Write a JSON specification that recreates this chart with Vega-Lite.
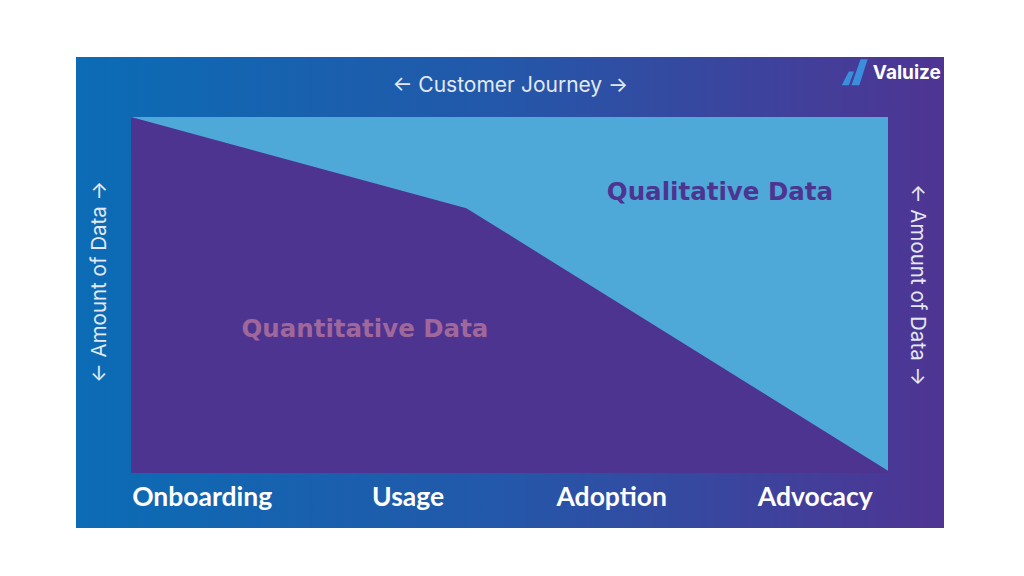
{
  "$schema": "https://vega.github.io/schema/vega-lite/v6.json",
  "width": 868,
  "height": 471,
  "autosize": {"type": "none"},
  "padding": {"left": 76, "top": 57, "right": 80, "bottom": 48},
  "background": "white",
  "config": {"view": {"stroke": null}, "axis": {"disable": true}},
  "datasets": {
    "frame": [{"x0": -7.27, "x1": 107.4, "y0": -15.45, "y1": 116.85}],
    "inner": [{"x0": 0, "x1": 100, "y0": 0, "y1": 100}],
    "boundary": [
      {"x": 0, "y": 100},
      {"x": 44.3, "y": 74.4},
      {"x": 100, "y": 0.6}
    ],
    "stages": [
      {"label": "Onboarding", "x": 9.4, "y": -6.9},
      {"label": "Usage", "x": 36.6, "y": -6.9},
      {"label": "Adoption", "x": 63.5, "y": -6.9},
      {"label": "Advocacy", "x": 90.4, "y": -6.9}
    ]
  },
  "layer": [
    {
      "data": {"name": "frame"},
      "mark": {
        "type": "rect",
        "color": {
          "gradient": "linear", "x1": 0, "y1": 0, "x2": 1, "y2": 0,
          "stops": [
            {"offset": 0, "color": "#0B6CB5"},
            {"offset": 0.5, "color": "#2457A9"},
            {"offset": 1, "color": "#4F3493"}
          ]
        }
      },
      "encoding": {
        "x": {"field": "x0", "type": "quantitative", "scale": {"domain": [-7.27, 107.4], "nice": false, "zero": false}},
        "x2": {"field": "x1"},
        "y": {"field": "y0", "type": "quantitative", "scale": {"domain": [-15.45, 116.85], "nice": false, "zero": false}},
        "y2": {"field": "y1"}
      }
    },
    {
      "data": {"name": "inner"},
      "mark": {"type": "rect", "color": "#4FA9D8"},
      "encoding": {
        "x": {"field": "x0", "type": "quantitative"},
        "x2": {"field": "x1"},
        "y": {"field": "y0", "type": "quantitative"},
        "y2": {"field": "y1"}
      }
    },
    {
      "data": {"name": "boundary"},
      "mark": {"type": "area", "color": "#4D3491", "interpolate": "linear", "opacity": 1},
      "encoding": {
        "x": {"field": "x", "type": "quantitative"},
        "y": {"field": "y", "type": "quantitative"},
        "y2": {"datum": 0}
      }
    },
    {
      "data": {"name": "stages"},
      "mark": {"type": "text", "font": "Lato", "fontWeight": "bold", "fontSize": 26.5, "color": "white", "align": "center", "baseline": "middle"},
      "encoding": {
        "x": {"field": "x", "type": "quantitative"},
        "y": {"field": "y", "type": "quantitative"},
        "text": {"field": "label"}
      }
    },
    {
      "data": {"values": [{"label": "← Customer Journey →", "x": 50.1, "y": 108.7}]},
      "mark": {"type": "text", "font": "Inter", "fontSize": 21, "color": "#E3E8F2", "align": "center", "baseline": "middle"},
      "encoding": {
        "x": {"field": "x", "type": "quantitative"},
        "y": {"field": "y", "type": "quantitative"},
        "text": {"field": "label"}
      }
    },
    {
      "data": {"values": [{"label": "← Amount of Data →", "x": -4.1, "y": 53.7}]},
      "mark": {"type": "text", "font": "Inter", "fontSize": 20.5, "color": "#E3E8F2", "align": "center", "baseline": "middle", "angle": 270},
      "encoding": {
        "x": {"field": "x", "type": "quantitative"},
        "y": {"field": "y", "type": "quantitative"},
        "text": {"field": "label"}
      }
    },
    {
      "data": {"values": [{"label": "← Amount of Data →", "x": 103.8, "y": 52.8}]},
      "mark": {"type": "text", "font": "Inter", "fontSize": 20.5, "color": "#E3E8F2", "align": "center", "baseline": "middle", "angle": 90},
      "encoding": {
        "x": {"field": "x", "type": "quantitative"},
        "y": {"field": "y", "type": "quantitative"},
        "text": {"field": "label"}
      }
    },
    {
      "data": {"values": [{"label": "Quantitative Data", "x": 30.9, "y": 40.2}]},
      "mark": {"type": "text", "font": "DejaVu Sans", "fontWeight": "bold", "fontSize": 24.5, "color": "#A0679B", "align": "center", "baseline": "middle"},
      "encoding": {
        "x": {"field": "x", "type": "quantitative"},
        "y": {"field": "y", "type": "quantitative"},
        "text": {"field": "label"}
      }
    },
    {
      "data": {"values": [{"label": "Qualitative Data", "x": 77.8, "y": 78.7}]},
      "mark": {"type": "text", "font": "DejaVu Sans", "fontWeight": "bold", "fontSize": 24.5, "color": "#4D3491", "align": "center", "baseline": "middle"},
      "encoding": {
        "x": {"field": "x", "type": "quantitative"},
        "y": {"field": "y", "type": "quantitative"},
        "text": {"field": "label"}
      }
    },
    {
      "data": {"values": [{"label": "Valuize", "x": 98.0, "y": 112.4}]},
      "mark": {"type": "text", "font": "Inter", "fontWeight": "bold", "fontSize": 19, "color": "white", "align": "left", "baseline": "middle"},
      "encoding": {
        "x": {"field": "x", "type": "quantitative"},
        "y": {"field": "y", "type": "quantitative"},
        "text": {"field": "label"}
      }
    },
    {
      "data": {"values": [{"x": 95.6, "y": 112.6}]},
      "mark": {"type": "point", "filled": true, "color": "#3A8EDB", "opacity": 1, "size": 676, "shape": "M-1,1 L-0.45,-0.05 L-0.05,-0.05 L-0.45,1 Z M-0.25,1 L0.45,-1 L1,-1 L0.35,1 Z"},
      "encoding": {
        "x": {"field": "x", "type": "quantitative"},
        "y": {"field": "y", "type": "quantitative"}
      }
    }
  ]
}
